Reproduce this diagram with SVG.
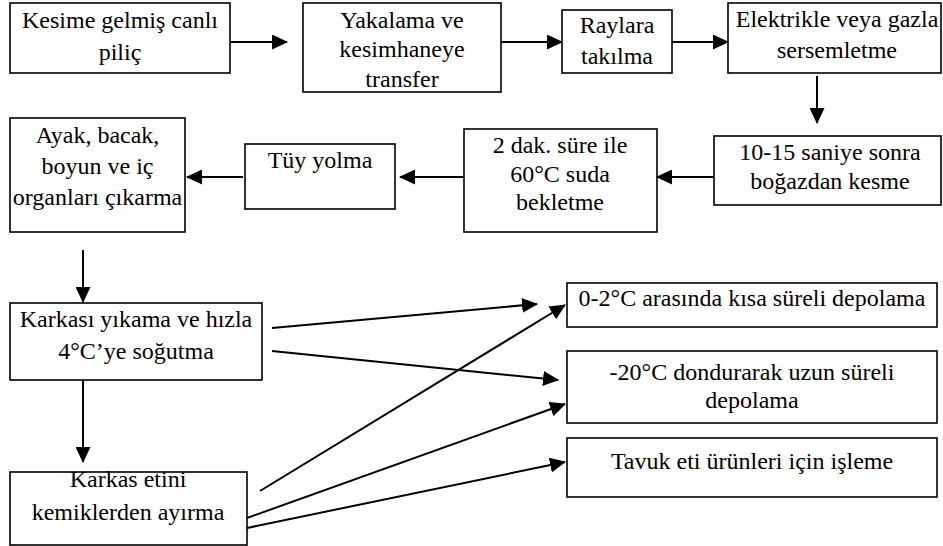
<svg xmlns="http://www.w3.org/2000/svg" width="943" height="546" viewBox="0 0 943 546">
<style>
.box{fill:#fff;stroke:#000;stroke-width:1.6}
.t{font-size:24px;fill:#000;text-anchor:middle}
.c{fill:none;stroke:#000;stroke-width:2}
</style>
<defs>
<marker id="ah" markerUnits="userSpaceOnUse" markerWidth="16" markerHeight="15" refX="15" refY="7.5" orient="auto">
<path d="M0,0 L16,7.5 L0,15 z" fill="#000"/>
</marker>
</defs>
<rect width="943" height="546" fill="#fff"/>
<g font-family="Liberation Serif, DejaVu Serif, serif">
<g id="n1"><rect class="box" x="10" y="3" width="220" height="70"/><text class="t" x="120" y="28">Kesime gelmiş canlı</text><text class="t" x="120" y="60">piliç</text></g>
<g id="n2"><rect class="box" x="303" y="3" width="198" height="89"/><text class="t" x="402" y="28">Yakalama ve</text><text class="t" x="402" y="57">kesimhaneye</text><text class="t" x="402" y="87">transfer</text></g>
<g id="n3"><rect class="box" x="562" y="10" width="110" height="63"/><text class="t" x="617" y="33">Raylara</text><text class="t" x="617" y="64">takılma</text></g>
<g id="n4"><rect class="box" x="728" y="3" width="213" height="70"/><text class="t" x="837" y="27">Elektrikle veya gazla</text><text class="t" x="837" y="58">sersemletme</text></g>
<g id="n5"><rect class="box" x="714" y="136" width="227" height="69"/><text class="t" x="830" y="160">10-15 saniye sonra</text><text class="t" x="830" y="189">boğazdan kesme</text></g>
<g id="n6"><rect class="box" x="464" y="129" width="193" height="103"/><text class="t" x="560" y="153">2 dak. süre ile</text><text class="t" x="560" y="182">60°C suda</text><text class="t" x="560" y="210">bekletme</text></g>
<g id="n7"><rect class="box" x="245" y="144" width="150" height="65"/><text class="t" x="320" y="168">Tüy yolma</text></g>
<g id="n8"><rect class="box" x="10" y="118" width="175" height="114"/><text class="t" x="97.5" y="143">Ayak, bacak,</text><text class="t" x="97.5" y="174">boyun ve iç</text><text class="t" x="97.5" y="205">organları çıkarma</text></g>
<g id="n9"><rect class="box" x="10" y="303" width="252" height="77"/><text class="t" x="136" y="327">Karkası yıkama ve hızla</text><text class="t" x="136" y="359">4°C’ye soğutma</text></g>
<g id="n10"><rect class="box" x="10" y="472" width="237" height="73"/><text class="t" x="128" y="487">Karkas etini</text><text class="t" x="128" y="520">kemiklerden ayırma</text></g>
<g id="n11"><rect class="box" x="567" y="283" width="370" height="44"/><text class="t" x="752" y="306">0-2°C arasında kısa süreli depolama</text></g>
<g id="n12"><rect class="box" x="567" y="351" width="370" height="72"/><text class="t" x="752" y="380">-20°C dondurarak uzun süreli</text><text class="t" x="752" y="408">depolama</text></g>
<g id="n13"><rect class="box" x="567" y="438" width="370" height="59"/><text class="t" x="752" y="469">Tavuk eti ürünleri için işleme</text></g>
</g>
<g id="connectors">
<path class="c" marker-end="url(#ah)" d="M230,42 H287"/>
<path class="c" marker-end="url(#ah)" d="M501,42 H562"/>
<path class="c" marker-end="url(#ah)" d="M672,42 H728"/>
<path class="c" marker-end="url(#ah)" d="M817,76 V123"/>
<path class="c" marker-end="url(#ah)" d="M714,177 H657"/>
<path class="c" marker-end="url(#ah)" d="M464,177 H400"/>
<path class="c" marker-end="url(#ah)" d="M243,177 H187"/>
<path class="c" marker-end="url(#ah)" d="M83,250 V302"/>
<path class="c" marker-end="url(#ah)" d="M83,380 V462"/>
<path class="c" marker-end="url(#ah)" d="M272,328 L537,304"/>
<path class="c" marker-end="url(#ah)" d="M272,351 L558,380"/>
<path class="c" marker-end="url(#ah)" d="M260,491 L565,305"/>
<path class="c" marker-end="url(#ah)" d="M247,518 L565,404"/>
<path class="c" marker-end="url(#ah)" d="M247,528 L565,462"/>
</g>
</svg>
